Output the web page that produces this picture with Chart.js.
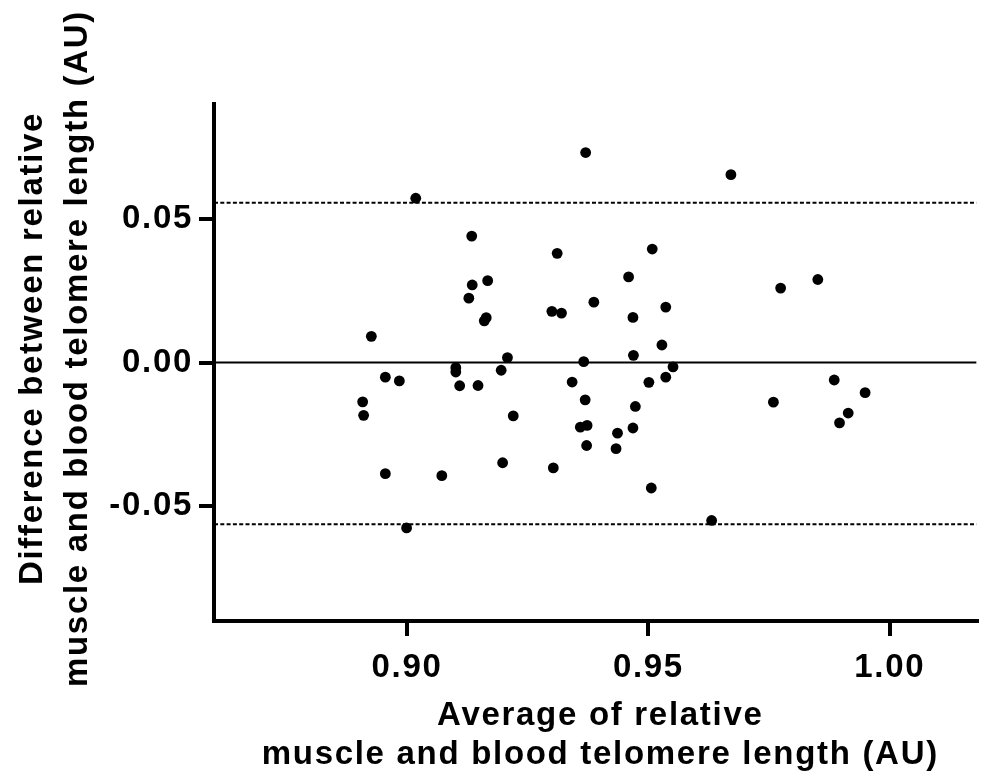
<!DOCTYPE html>
<html>
<head>
<meta charset="utf-8">
<script src="https://cdn.jsdelivr.net/npm/chart.js@4/dist/chart.umd.min.js"></script>
<style>
  html, body { margin: 0; padding: 0; background: #ffffff; }
  #wrap { width: 982px; height: 772px; }
</style>
</head>
<body>
<div id="wrap"><canvas id="c" width="982" height="772"></canvas></div>
<script>
// ---- data ----
const avgValues = [
  0.9370, 0.9018, 0.9134, 0.9311, 0.9459, 0.9167, 0.9135, 0.9128, 0.9387, 0.9300,
  0.9320, 0.9468, 0.9164, 0.9160, 0.8926, 0.9208, 0.9366, 0.9469, 0.9671, 0.9508,
  0.9851, 0.9774, 0.9536, 0.9528, 0.9101, 0.9101, 0.9195, 0.8955, 0.8984, 0.9109,
  0.9147, 0.9342, 0.9369, 0.8908, 0.8910, 0.9220, 0.9359, 0.9373, 0.9473, 0.9468,
  0.9436, 0.9433, 0.9372, 0.9198, 0.8955, 0.9072, 0.9303, 0.8999, 0.9551, 0.9536,
  0.9501, 0.9506, 0.9631, 0.9759, 0.9885, 0.9949, 0.9914, 0.9896
];
const diffValues = [
  0.0731, 0.0572, 0.0440, 0.0380, 0.0298, 0.0285, 0.0270, 0.0224, 0.0210, 0.0178,
  0.0172, 0.0157, 0.0156, 0.0145, 0.0091, 0.0017, 0.0003, 0.0025, 0.0654, 0.0395,
  0.0289, 0.0259, 0.0193, 0.0061, -0.0018, -0.0033, -0.0027, -0.0051, -0.0064, -0.0081,
  -0.0080, -0.0068, -0.0130, -0.0137, -0.0184, -0.0186, -0.0225, -0.0219, -0.0153, -0.0228,
  -0.0246, -0.0300, -0.0289, -0.0349, -0.0387, -0.0394, -0.0367, -0.0576, -0.0015, -0.0051,
  -0.0069, -0.0437, -0.0550, -0.0138, -0.0061, -0.0105, -0.0176, -0.0210
];
const biasValue = 0;
const upperLimit = 0.0556;
const lowerLimit = -0.0563;
const xTicks = [0.90, 0.95, 1.00];
const yTicks = [-0.05, 0.00, 0.05];
const xMin = 0.86, xMax = 1.018;
const yMin = -0.09, yMax = 0.09;
const xTitle = ['Average of relative', 'muscle and blood telomere length (AU)'];
const yTitle = ['Difference between relative', 'muscle and blood telomere length (AU)'];

const points = avgValues.map((x, i) => ({ x: x, y: diffValues[i] }));
const hLine = (v) => [{ x: xMin, y: v }, { x: xMax, y: v }];

const SPACING = '1.7px';
const setSpacing = (chart) => { chart.ctx.letterSpacing = SPACING; };
const TITLE_SHIFT = { x: [5, 3], y: [0, -14] };
const stylePlugin = {
  id: 'textStyle',
  beforeUpdate: setSpacing,
  beforeLayout: setSpacing,
  beforeDraw(chart) {
    setSpacing(chart);
    ['x', 'y'].forEach((id) => {
      const s = chart.scales[id];
      if (s && !s._titleShifted) {
        const orig = s.drawTitle.bind(s);
        const d = TITLE_SHIFT[id];
        s.drawTitle = function () {
          const ctx = chart.ctx;
          ctx.save();
          ctx.translate(d[0], d[1]);
          orig();
          ctx.restore();
        };
        s._titleShifted = true;
      }
    });
  }
};

const FONT = '"Liberation Sans", Arial, Helvetica, sans-serif';

new Chart(document.getElementById('c'), {
  type: 'scatter',
  data: {
    datasets: [
      {
        type: 'scatter',
        data: points,
        backgroundColor: '#000000',
        borderWidth: 0,
        pointRadius: 5.4,
        pointHoverRadius: 5.4,
        order: 0
      },
      {
        type: 'line',
        data: hLine(biasValue),
        borderColor: '#000000',
        borderWidth: 2,
        pointRadius: 0,
        fill: false,
        order: 1
      },
      {
        type: 'line',
        data: hLine(upperLimit),
        borderColor: '#000000',
        borderWidth: 2,
        borderDash: [4, 2.3],
        pointRadius: 0,
        fill: false,
        order: 2
      },
      {
        type: 'line',
        data: hLine(lowerLimit),
        borderColor: '#000000',
        borderWidth: 2,
        borderDash: [4, 2.3],
        pointRadius: 0,
        fill: false,
        order: 3
      }
    ]
  },
  options: {
    responsive: false,
    animation: false,
    devicePixelRatio: 1,
    layout: { padding: { top: 104, right: 0, bottom: 0, left: 0 } },
    plugins: {
      legend: { display: false },
      tooltip: { enabled: false }
    },
    scales: {
      x: {
        type: 'linear',
        position: 'bottom',
        min: xMin,
        max: xMax,
        afterBuildTicks(scale) { scale.ticks = xTicks.map(v => ({ value: v })); },
        afterFit(scale) { scale.height = 151; },
        border: { display: true, color: '#000000', width: 4 },
        grid: {
          display: true, drawOnChartArea: false, drawTicks: true,
          tickLength: 15, tickWidth: 4, tickColor: '#000000', color: '#000000', lineWidth: 4
        },
        ticks: {
          padding: 12,
          color: '#000000',
          maxRotation: 0,
          font: { family: FONT, size: 33, weight: 'bold', lineHeight: 1.2 },
          callback: (v) => Number(v).toFixed(2)
        },
        title: {
          display: true,
          text: xTitle,
          color: '#000000',
          font: { family: FONT, size: 33, weight: 'bold', lineHeight: 1.2 },
          padding: { top: 0, bottom: 0 }
        }
      },
      y: {
        type: 'linear',
        position: 'left',
        min: yMin,
        max: yMax,
        afterBuildTicks(scale) { scale.ticks = yTicks.map(v => ({ value: v })); },
        afterFit(scale) { scale.width = 214; },
        border: { display: true, color: '#000000', width: 4 },
        grid: {
          display: true, drawOnChartArea: false, drawTicks: true,
          tickLength: 15, tickWidth: 4, tickColor: '#000000', color: '#000000', lineWidth: 4
        },
        ticks: {
          padding: 6,
          color: '#000000',
          font: { family: FONT, size: 33, weight: 'bold' },
          callback: (v) => Number(v).toFixed(2)
        },
        title: {
          display: true,
          text: yTitle,
          color: '#000000',
          font: { family: FONT, size: 33, weight: 'bold', lineHeight: 1.35 },
          padding: { top: 11, bottom: 0 }
        }
      }
    }
  },
  plugins: [stylePlugin]
});
</script>
</body>
</html>
